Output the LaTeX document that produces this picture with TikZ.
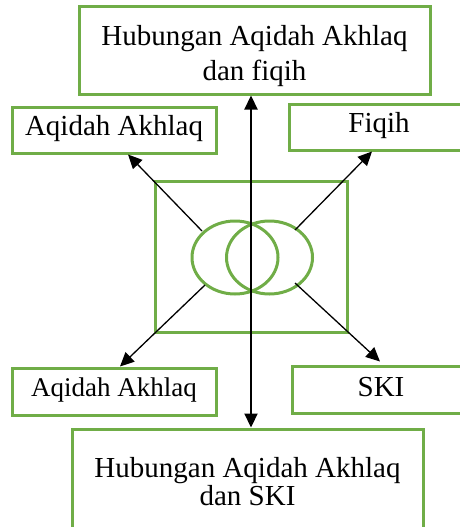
\documentclass[tikz,border=0pt]{standalone}
\usepackage{fontspec}
\setmainfont{Liberation Serif}[Ligatures=NoCommon]
\usetikzlibrary{positioning,calc,arrows.meta,shapes.geometric}
\definecolor{leafgreen}{RGB}{112,173,71}

\begin{document}
\begin{tikzpicture}[x=1pt, y=-1pt,
% Node styles
 box/.style={draw=leafgreen, line width=3pt, inner xsep=0pt, inner ysep=0pt,
 font=\fontsize{29}{34}\selectfont, align=center, text height=28pt, text depth=18pt},
 frame/.style={draw=leafgreen, line width=3pt, minimum width=192pt, minimum height=151pt},
 ring/.style={draw=leafgreen, line width=3pt, ellipse, inner sep=0pt,
 minimum width=86pt, minimum height=73pt},
% Edge styles
 link/.style={draw, line width=1.3pt, -{Triangle[length=14pt,width=13pt]}},
 axis/.style={draw, line width=2.2pt,
 {Triangle[length=14pt,width=13pt]}-{Triangle[length=14pt,width=13pt]}}
]
\clip (0,0) rectangle (460,527);
% Top relation box
\node[box, minimum width=351pt, text height=73pt, text depth=14pt] (relFiqih) at (254.5,50.5)
 {Hubungan Aqidah Akhlaq\\dan fiqih};
% Upper subject boxes
\node[box, minimum width=204pt] (aqidahUp) at (114,130) {Aqidah Akhlaq};
\node[box, minimum width=180pt] (fiqih) at (379,127) {Fiqih};
% Centre square and rings
\node[frame] (square) at (251,256.5) {};
\node[ring] (ringL) at (235,257.5) {};
\node[ring] (ringR) at (269.5,257.5) {};
% Lower subject boxes
\node[box, minimum width=204pt, text depth=19pt, font=\fontsize{27}{32}\selectfont]
 (aqidahDown) at (114,391.5) {Aqidah Akhlaq};
\node[box, minimum width=178pt, text height=30pt, text depth=17pt] (ski) at (381,389.5) {SKI};
% Bottom relation box
\node[box, minimum width=351pt, text height=76pt, text depth=35pt,
 font=\fontsize{29}{28}\selectfont] (relSki) at (247.5,484.5)
 {Hubungan Aqidah Akhlaq\\dan SKI};
% Start points of the diagonals
\coordinate (nwStart) at (202,231);
\coordinate (neStart) at (295,230);
\coordinate (swStart) at (205,285);
\coordinate (seStart) at (295,283);
% Connect with arrows
\draw[axis] (square |- relFiqih.south) -- (square |- relSki.north);
\draw[link] (nwStart) -- ($(aqidahUp.south)+(14,0)$);
\draw[link] (neStart) -- ($(fiqih.south)+(-7,0)$);
\draw[link] (swStart) -- ($(aqidahDown.north)+(6,0)$);
\draw[link] (seStart) -- ($(ski.north)+(-1,-3)$);
\end{tikzpicture}
\end{document}
